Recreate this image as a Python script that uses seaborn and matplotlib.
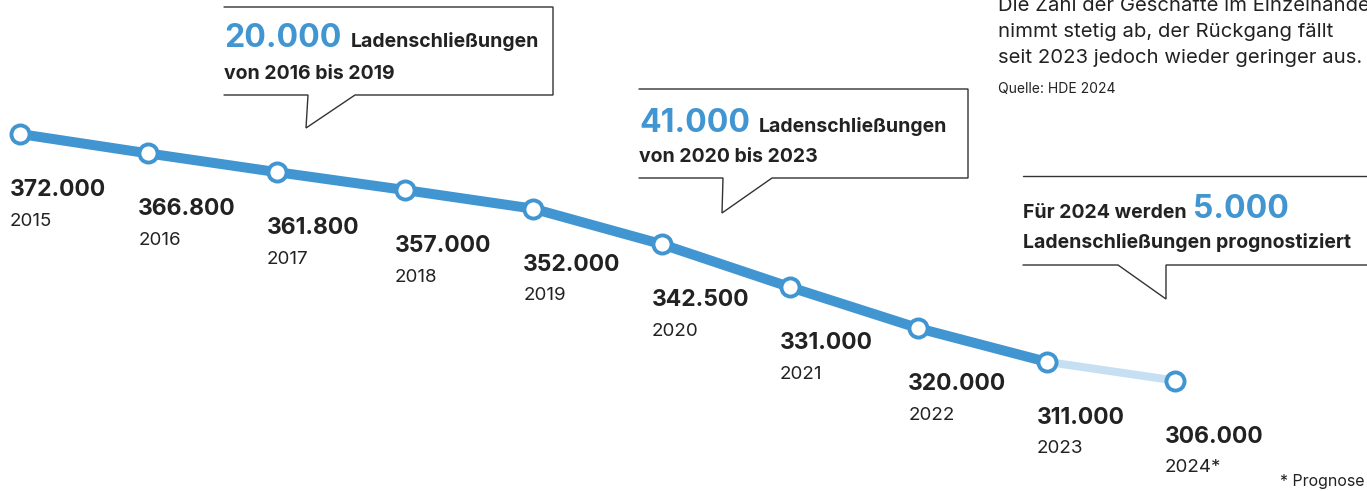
import matplotlib
matplotlib.use("Agg")
import matplotlib.pyplot as plt
from matplotlib.lines import Line2D
import seaborn as sns
import pandas as pd

years = [2015, 2016, 2017, 2018, 2019, 2020, 2021, 2022, 2023, 2024]
stores = [372000, 366800, 361800, 357000, 352000, 342500, 331000, 320000, 311000, 306000]
year_labels = ["2015", "2016", "2017", "2018", "2019", "2020", "2021", "2022", "2023", "2024*"]
forecast_from = 2023

intro_lines = [
    "Die Zahl der Geschäfte im Einzelhandel",
    "nimmt stetig ab, der Rückgang fällt",
    "seit 2023 jedoch wieder geringer aus.",
]
source = "Quelle: HDE 2024"

BLUE = "#4196d2"
LIGHT = "#c6dff2"
DARK = "#222222"
W, H = 1367, 491

sns.set_theme(style="white")
plt.rcParams["font.family"] = ["Inter", "DejaVu Sans"]

df = pd.DataFrame({"year": years, "stores": stores, "label": year_labels})
actual = df[df["year"] <= forecast_from]
forecast = df[df["year"] >= forecast_from]

fig = plt.figure(figsize=(W / 100, H / 100), dpi=100)
ax = fig.add_axes([0, 0, 1, 1])

sns.lineplot(data=forecast, x="year", y="stores", color=LIGHT, linewidth=5.8,
             solid_capstyle="butt", ax=ax, zorder=2)
sns.lineplot(data=actual, x="year", y="stores", color=BLUE, linewidth=7.2,
             solid_capstyle="butt", ax=ax, zorder=3)
sns.scatterplot(data=df, x="year", y="stores", s=170, color="white",
                edgecolor=BLUE, linewidth=2.8, ax=ax, zorder=4)

ax.set_xlim(2014.844, 2025.496)
ax.set_ylim(276418, 407877)
ax.axis("off")

# value and year labels under each point
for _, r in df.iterrows():
    val = f"{r['stores']:,}".replace(",", ".")
    ax.annotate(val, (r["year"], r["stores"]), xytext=(-10, -56),
                textcoords="offset pixels", ha="left", va="center",
                fontsize=16.5, fontweight="bold", color=DARK)
    ax.annotate(r["label"], (r["year"], r["stores"]), xytext=(-10, -87),
                textcoords="offset pixels", ha="left", va="center",
                fontsize=13.5, color=DARK)


def fx(x):
    return x / W


def fy(y):
    return 1 - y / H


def seg(points):
    xs = [fx(p[0]) for p in points]
    ys = [fy(p[1]) for p in points]
    fig.add_artist(Line2D(xs, ys, transform=fig.transFigure, color="#333333",
                          linewidth=1.0, solid_joinstyle="miter"))


renderer = fig.canvas.get_renderer()


def inline(x, y, parts):
    # parts: list of (text, size, color, gap)
    cur = x
    for text, size, color, gap in parts:
        t = fig.text(fx(cur), fy(y), text, fontsize=size, fontweight="bold",
                     color=color, ha="left", va="baseline")
        bb = t.get_window_extent(renderer=renderer)
        cur = bb.x1 + gap


# callout 2016-2019
seg([(224, 7), (553, 7), (553, 95), (355, 95), (306, 128), (308, 95), (224, 95)])
inline(224, 47, [("20.000", 23, BLUE, 9), ("Ladenschließungen", 14, DARK, 0)])
inline(224, 79, [("von 2016 bis 2019", 14, DARK, 0)])

# callout 2020-2023
seg([(639, 89), (968, 89), (968, 178), (772, 178), (722, 213), (723, 178), (639, 178)])
inline(639, 132, [("41.000", 23, BLUE, 9), ("Ladenschließungen", 14, DARK, 0)])
inline(639, 162, [("von 2020 bis 2023", 14, DARK, 0)])

# callout forecast
seg([(1023, 176), (W, 176)])
seg([(1023, 265), (1118, 265), (1166, 299), (1166, 265), (W, 265)])
inline(1023, 218, [("Für 2024 werden", 14, DARK, 6), ("5.000", 23, BLUE, 0)])
inline(1023, 248, [("Ladenschließungen prognostiziert", 14, DARK, 0)])

# intro text top right
for i, line in enumerate(intro_lines):
    fig.text(fx(998), fy(11 + i * 26), line, fontsize=14.6, color=DARK,
             ha="left", va="baseline")
fig.text(fx(998), fy(93), source, fontsize=10, color=DARK, ha="left", va="baseline")

fig.text(fx(1280), fy(486), "* Prognose", fontsize=11.5, color=DARK, ha="left", va="baseline")

fig.savefig("out.png", dpi=100)
